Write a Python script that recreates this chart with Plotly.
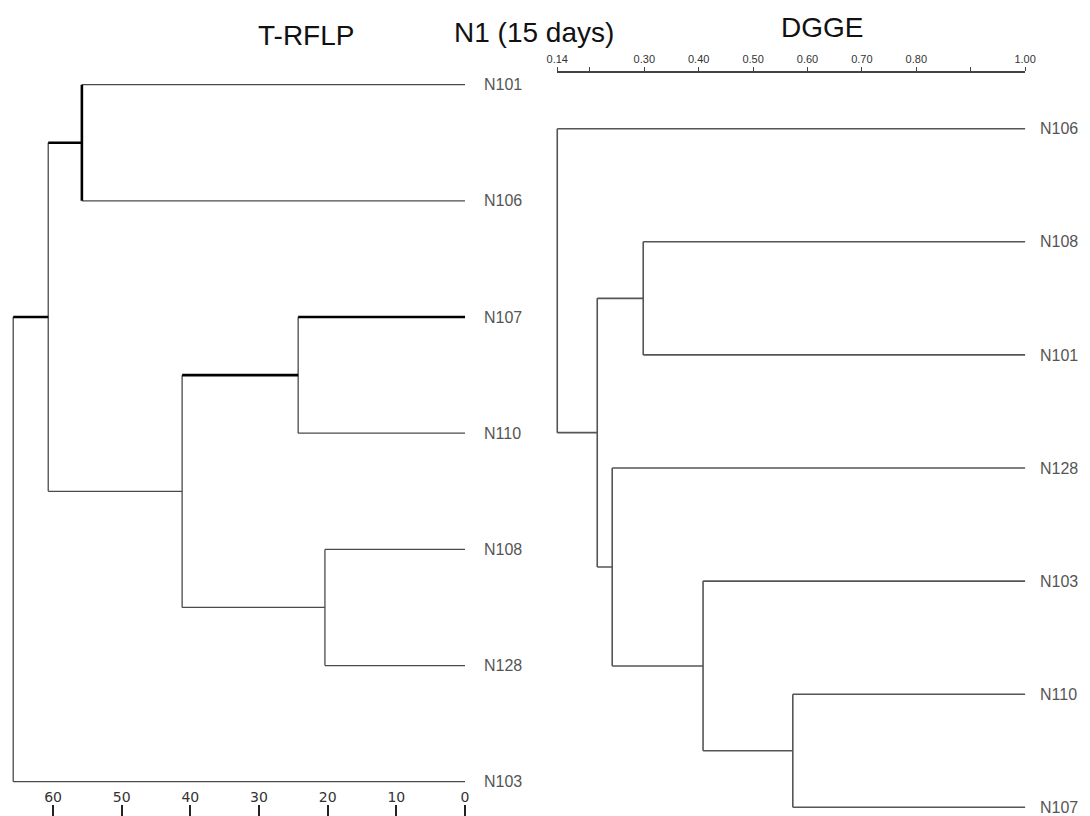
import plotly.graph_objects as go

# ---------------- DATA ----------------
trflp_leaves = ["N101", "N106", "N107", "N110", "N108", "N128", "N103"]
trflp_leaf_level = 0.0
# merges (child_a, child_b, height); clusters numbered after leaves (7, 8, ...)
trflp_merge_a = [0, 2, 4, 8, 7, 11]
trflp_merge_b = [1, 3, 5, 9, 10, 6]
trflp_heights = [55.8, 24.3, 20.4, 41.2, 60.7, 65.8]
trflp_ticks = [60, 50, 40, 30, 20, 10, 0]

dgge_leaves = ["N106", "N108", "N101", "N128", "N103", "N110", "N107"]
dgge_leaf_level = 1.00
dgge_merge_a = [1, 5, 4, 3, 7, 0]
dgge_merge_b = [2, 6, 8, 9, 10, 11]
dgge_heights = [0.298, 0.573, 0.408, 0.241, 0.2135, 0.14]
dgge_tickvals = [0.14, 0.20, 0.30, 0.40, 0.50, 0.60, 0.70, 0.80, 0.90, 1.00]
dgge_ticktext = ["0.14", "", "0.30", "0.40", "0.50", "0.60", "0.70", "0.80", "", "1.00"]

titles = ["T-RFLP", "N1 (15 days)", "DGGE"]

# ---------------- STYLE / LAYOUT ----------------
W, H = 1090, 816
OFF = 8  # page body margin offset of the rendered figure

THIN = dict(color="#4a4a4a", width=1.3)
BOLD = dict(color="#000000", width=2.6)
RIGHT_LINE = dict(color="#555555", width=1.6)
# bold segments of the T-RFLP tree: (merge index, part) part: 'a' first leg, 'v' vertical, 'b' second leg
trflp_bold = {(0, "v"), (4, "a"), (5, "a"), (3, "a"), (1, "a")}


def fx(px):
    return (px - OFF) / W


def fy(py):
    return 1 - (py - OFF) / H


def axis_range(p0, p1, a, b):
    # screen px = a + b * value ; returns value range for screen span p0..p1
    return [(p0 - a) / b, (p1 - a) / b]


def tree_segments(n_leaves, ma, mb, hs, leaf_level):
    ypos = {i: float(i) for i in range(n_leaves)}
    hpos = {i: leaf_level for i in range(n_leaves)}
    segs = []
    for k, (a, b, h) in enumerate(zip(ma, mb, hs)):
        ya, yb = ypos[a], ypos[b]
        segs.append((k, "a", [hpos[a], h], [ya, ya]))
        segs.append((k, "v", [h, h], [ya, yb]))
        segs.append((k, "b", [h, hpos[b]], [yb, yb]))
        cid = n_leaves + k
        ypos[cid] = (ya + yb) / 2
        hpos[cid] = h
    return segs


def collect(segs, keep):
    xs, ys = [], []
    for k, p, x, y in segs:
        if keep(k, p):
            xs += x + [None]
            ys += y + [None]
    return xs, ys


fig = go.Figure()

left = tree_segments(len(trflp_leaves), trflp_merge_a, trflp_merge_b, trflp_heights, trflp_leaf_level)
xs, ys = collect(left, lambda k, p: (k, p) not in trflp_bold)
fig.add_trace(go.Scatter(x=xs, y=ys, mode="lines", line=THIN, xaxis="x", yaxis="y", hoverinfo="skip"))
xs, ys = collect(left, lambda k, p: (k, p) in trflp_bold)
fig.add_trace(go.Scatter(x=xs, y=ys, mode="lines", line=BOLD, xaxis="x", yaxis="y", hoverinfo="skip"))

right = tree_segments(len(dgge_leaves), dgge_merge_a, dgge_merge_b, dgge_heights, dgge_leaf_level)
xs, ys = collect(right, lambda k, p: True)
fig.add_trace(go.Scatter(x=xs, y=ys, mode="lines", line=RIGHT_LINE, xaxis="x2", yaxis="y2", hoverinfo="skip"))

# invisible trace to carry the DGGE scale bar axis
fig.add_trace(go.Scatter(x=[dgge_tickvals[0], dgge_tickvals[-1]], y=[0, 0], mode="lines",
                         line=dict(width=0), opacity=0, xaxis="x3", yaxis="y3", hoverinfo="skip"))

label_font = dict(family="Liberation Sans, Arial, sans-serif", size=16, color="#555555")

# screen mappings (reference pixels)
L_XA, L_XB = 465.0, -6.866      # T-RFLP distance -> px
L_YA, L_YB = 84.7, 116.17       # leaf index -> py
R_XA, R_XB = 481.1, 544.0       # DGGE similarity -> px
R_YA, R_YB = 128.7, 113.1       # leaf index -> py

left_dom_x = [0, 0.46]
left_dom_y = [fy(816), 1]
right_dom_x = [0.46, 1]
right_dom_y = [0, 1]

def px_of(fr):
    return fr * W + OFF

def py_of(fr):
    return (1 - fr) * H + OFF

xr_left = axis_range(px_of(left_dom_x[0]), px_of(left_dom_x[1]), L_XA, L_XB)
yr_left = axis_range(py_of(left_dom_y[0]), py_of(left_dom_y[1]), L_YA, L_YB)
xr_right = axis_range(px_of(right_dom_x[0]), px_of(right_dom_x[1]), R_XA, R_XB)
yr_right = axis_range(py_of(right_dom_y[0]), py_of(right_dom_y[1]), R_YA, R_YB)

fig.update_layout(
    width=W, height=H,
    margin=dict(l=0, r=0, t=0, b=0, autoexpand=False),
    paper_bgcolor="white", plot_bgcolor="rgba(0,0,0,0)",
    showlegend=False,
    xaxis=dict(domain=left_dom_x, range=xr_left, anchor="y", automargin=False,
               showgrid=False, zeroline=False, showline=False,
               tickvals=trflp_ticks, ticktext=[str(t) for t in trflp_ticks],
               ticks="inside", ticklen=11, tickwidth=1.6, tickcolor="#222222",
               ticklabelposition="inside",
               tickfont=dict(family="DejaVu Sans, sans-serif", size=14, color="#333333")),
    yaxis=dict(domain=left_dom_y, range=yr_left, anchor="free", position=fx(483), side="right",
               automargin=False, showgrid=False, zeroline=False, showline=False, ticks="",
               tickvals=list(range(len(trflp_leaves))), ticktext=trflp_leaves, tickfont=label_font),
    xaxis2=dict(domain=right_dom_x, range=xr_right, anchor="y2", visible=False, automargin=False),
    yaxis2=dict(domain=right_dom_y, range=yr_right, anchor="free", position=fx(1039), side="right",
                automargin=False, showgrid=False, zeroline=False, showline=False, ticks="",
                tickvals=list(range(len(dgge_leaves))), ticktext=dgge_leaves, tickfont=label_font),
    xaxis3=dict(domain=[fx(R_XA + R_XB * 0.14), fx(R_XA + R_XB * 1.00)], range=[0.14, 1.00],
                anchor="y3", side="top", automargin=False,
                showgrid=False, zeroline=False, showline=True, linecolor="#444444", linewidth=1.5,
                ticks="outside", ticklen=4, tickwidth=1.3, tickcolor="#444444",
                tickvals=dgge_tickvals, ticktext=dgge_ticktext,
                tickfont=dict(family="Liberation Sans Narrow, Liberation Sans, sans-serif", size=11, color="#333333")),
    yaxis3=dict(domain=[0.5, fy(73)], visible=False, range=[-1, 1], automargin=False),
)

title_font = dict(family="Liberation Sans, Arial, sans-serif", size=28, color="#111111")
title_pos = [(306, 36), (534, 32), (822, 27)]
for t, (px, py) in zip(titles, title_pos):
    fig.add_annotation(text=t, x=fx(px), y=fy(py), xref="paper", yref="paper",
                       showarrow=False, font=title_font, xanchor="center", yanchor="middle")

fig.write_html("out.html")
